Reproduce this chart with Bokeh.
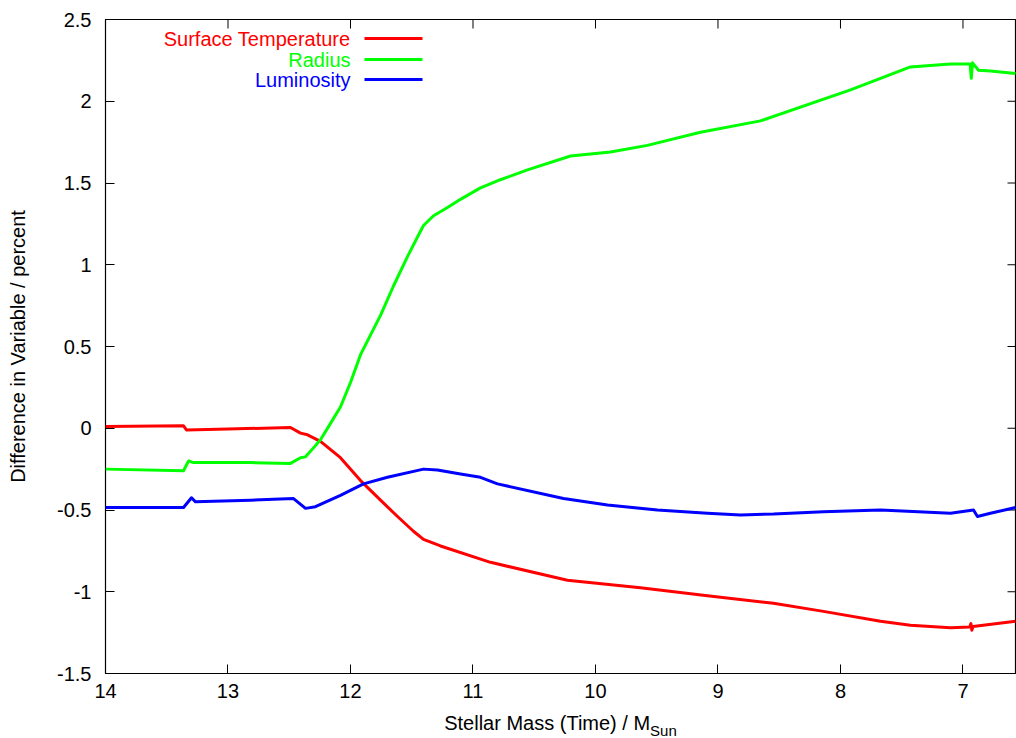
import math

from bokeh.plotting import figure
from bokeh.models import Range1d, FixedTicker, Label, Div
from bokeh.layouts import column
from bokeh.embed import file_html
from bokeh.resources import INLINE

# Stellar mass (decreasing with time) and percentage differences
mass_temp = [14.0, 13.363, 13.339, 13.0, 12.49, 12.408, 12.351, 12.245, 12.082, 11.918,
             11.755, 11.616, 11.486, 11.404, 11.265, 10.857, 10.229, 9.633, 9.086, 8.547,
             8.139, 7.673, 7.429, 7.102, 6.945, 6.935, 6.928, 6.918, 6.571]
diff_temp = [0.01, 0.015, -0.01, -0.005, 0.005, -0.03, -0.04, -0.08, -0.18, -0.32,
             -0.44, -0.54, -0.63, -0.68, -0.72, -0.82, -0.93, -0.975, -1.025, -1.07,
             -1.12, -1.18, -1.205, -1.22, -1.215, -1.195, -1.235, -1.212, -1.18]

mass_rad = [14.0, 13.363, 13.322, 13.282, 12.816, 12.49, 12.408, 12.367, 12.302, 12.245,
            12.163, 12.082, 12.0, 11.918, 11.837, 11.755, 11.649, 11.535, 11.453, 11.404,
            11.322, 11.208, 11.102, 10.939, 10.776, 10.555, 10.204, 9.878, 9.576, 9.143,
            8.653, 7.918, 7.429, 7.102, 6.942, 6.932, 6.922, 6.873, 6.776, 6.571]
diff_rad = [-0.25, -0.26, -0.2, -0.21, -0.21, -0.215, -0.18, -0.175, -0.12, -0.07,
            0.03, 0.13, 0.28, 0.45, 0.57, 0.69, 0.87, 1.05, 1.17, 1.24,
            1.3, 1.35, 1.40, 1.47, 1.52, 1.58, 1.665, 1.69, 1.73, 1.81,
            1.88, 2.07, 2.21, 2.228, 2.228, 2.14, 2.235, 2.19, 2.185, 2.17]

mass_lum = [14.0, 13.363, 13.298, 13.265, 12.816, 12.465, 12.367, 12.286, 12.082, 11.894,
            11.698, 11.404, 11.29, 11.102, 10.939, 10.8, 10.261, 9.902, 9.494, 9.086,
            8.816, 8.547, 8.139, 7.673, 7.102, 6.914, 6.882, 6.776, 6.571]
diff_lum = [-0.485, -0.485, -0.425, -0.45, -0.44, -0.43, -0.49, -0.48, -0.41, -0.34,
            -0.30, -0.25, -0.255, -0.28, -0.30, -0.34, -0.43, -0.47, -0.50, -0.52,
            -0.53, -0.525, -0.51, -0.50, -0.52, -0.50, -0.54, -0.52, -0.485]

series_names = ["Surface Temperature", "Radius", "Luminosity"]
series_colors = ["#ff0000", "#00ff00", "#0000ff"]

x_ticks = [14, 13, 12, 11, 10, 9, 8, 7]
y_ticks = [-1.5, -1, -0.5, 0, 0.5, 1, 1.5, 2, 2.5]
y_tick_labels = ["-1.5", "-1", "-0.5", "0", "0.5", "1", "1.5", "2", "2.5"]

FONT = "Liberation Sans"
FS = "20px"
TICK_LEN = 9

# canvas geometry (pixels from top-left) and axis ranges
W, H = 1016, 708
FRAME_L, FRAME_R, FRAME_T, FRAME_B = 105, 1016, 19, 673
X0, X1 = 14.0, 6.563
Y0, Y1 = -1.5, 2.5


def px_x(px):
    return X0 + (px - FRAME_L) / (FRAME_R - FRAME_L) * (X1 - X0)


def px_y(py):
    return Y1 - (py - FRAME_T) / (FRAME_B - FRAME_T) * (Y1 - Y0)


p = figure(width=W, height=H, output_backend="svg", toolbar_location=None,
           x_range=Range1d(X0, X1), y_range=Range1d(Y0, Y1),
           min_border_left=FRAME_L, min_border_right=W - FRAME_R,
           min_border_top=FRAME_T, min_border_bottom=H - FRAME_B)

p.background_fill_color = "white"
p.border_fill_color = "white"
p.outline_line_color = "black"
p.outline_line_width = 1.2
p.grid.visible = False

for ax in (p.xaxis[0], p.yaxis[0]):
    ax.axis_line_color = None
    ax.major_tick_in = TICK_LEN
    ax.major_tick_out = 0
    ax.minor_tick_line_color = None
    ax.major_tick_line_color = "black"
    ax.major_label_text_font = FONT
    ax.major_label_text_font_size = FS
    ax.major_label_text_color = "black"

p.xaxis[0].major_label_standoff = 10
p.yaxis[0].major_label_standoff = 14

p.xaxis[0].ticker = FixedTicker(ticks=x_ticks)
p.xaxis[0].major_label_overrides = {t: str(t) for t in x_ticks}
p.yaxis[0].ticker = FixedTicker(ticks=y_ticks)
p.yaxis[0].major_label_overrides = dict(zip(y_ticks, y_tick_labels))

p.yaxis[0].axis_label = "Difference in Variable / percent"
p.yaxis[0].axis_label_text_font = FONT
p.yaxis[0].axis_label_text_font_size = FS
p.yaxis[0].axis_label_text_font_style = "normal"
p.yaxis[0].axis_label_text_color = "black"
p.yaxis[0].axis_label_standoff = 25

# mirrored inward ticks on the top and right edges
p.ray(x=x_ticks, y=[Y1] * len(x_ticks), length=TICK_LEN, length_units="screen",
      angle=-math.pi / 2, line_color="black", line_width=1)
p.ray(x=[X1] * len(y_ticks), y=y_ticks, length=TICK_LEN, length_units="screen",
      angle=math.pi, line_color="black", line_width=1)

# data curves
for xs, ys, c in ((mass_temp, diff_temp, series_colors[0]),
                  (mass_rad, diff_rad, series_colors[1]),
                  (mass_lum, diff_lum, series_colors[2])):
    p.line(xs, ys, line_color=c, line_width=3, line_join="round")

# key: right-aligned text followed by a short line sample
key_rows = [38, 59, 79]
for name, c, ry in zip(series_names, series_colors, key_rows):
    p.add_layout(Label(x=px_x(350), y=px_y(ry), text=name, text_align="right",
                       text_baseline="middle", text_font=FONT, text_font_size="20px",
                       text_color=c))
    p.line([px_x(364), px_x(422)], [px_y(ry), px_y(ry)], line_color=c, line_width=3)

# x axis title with subscript, centred under the plot frame
xtitle = Div(
    text='Stellar Mass (Time) / M<span style="font-size:15px; position:relative; top:6px;">Sun</span>',
    width=FRAME_R - FRAME_L, height=30,
    styles={"margin-left": f"{FRAME_L}px", "padding-top": "0px", "text-align": "center",
            "font-family": FONT, "font-size": FS, "line-height": "20px", "color": "black"},
)

layout = column(p, xtitle, spacing=0)
open("out.html", "w").write(file_html(layout, INLINE))
